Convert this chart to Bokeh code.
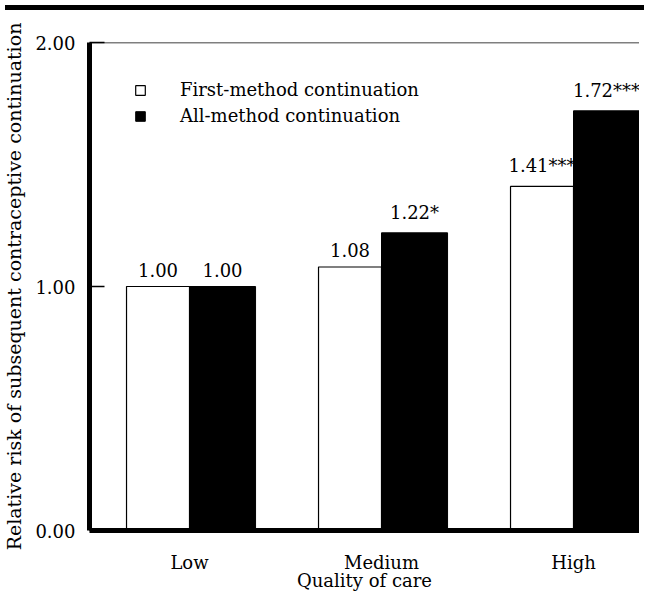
from bokeh.plotting import figure
from bokeh.models import FixedTicker, Legend, LegendItem, Span, Div
from bokeh.layouts import column
from bokeh.core.properties import value
from bokeh.embed import file_html
from bokeh.resources import INLINE

# ---- data ----
categories = ["Low", "Medium", "High"]
first_method = [1.00, 1.08, 1.41]
all_method = [1.00, 1.22, 1.72]
first_labels = ["1.00", "1.08", "1.41***"]
all_labels = ["1.00", "1.22*", "1.72***"]
y_ticks = [0, 1, 2]
y_tick_labels = ["0.00", "1.00", "2.00"]
series_names = ["First-method continuation", "All-method continuation"]

FONT = "DejaVu Serif"
FS = "18px"

xc = list(range(1, len(categories) + 1))
x_first = [c - 0.164 for c in xc]
x_all = [c + 0.172 for c in xc]

x_start = 1 - 100 / 192
p = figure(width=639, height=578, output_backend="svg", toolbar_location=None,
           x_range=(x_start, x_start + 550 / 192), y_range=(0, 2),
           min_border_left=81, min_border_right=0, min_border_top=27,
           min_border_bottom=59)
p.grid.visible = False
p.outline_line_color = None
p.background_fill_color = "white"

r_first = p.vbar(x=x_first, top=first_method, width=0.328, bottom=0,
                 fill_color="white", line_color="black", line_width=1.2)
r_all = p.vbar(x=x_all, top=all_method, width=0.344, bottom=0,
               fill_color="black", line_color="black", line_width=1)

p.text(x=x_first, y=first_method, text=first_labels, text_align="center",
       text_baseline="bottom", y_offset=-10, text_font=value(FONT),
       text_font_size=FS, text_color="black")
p.text(x=x_all, y=all_method, text=all_labels, text_align="center",
       text_baseline="bottom", y_offset=-10, text_font=value(FONT),
       text_font_size=FS, text_color="black")

# top border line
p.add_layout(Span(location=2, dimension="width", line_color="black", line_width=1.5))

# axes
p.xaxis.ticker = FixedTicker(ticks=xc)
p.xaxis.major_label_overrides = {c: lab for c, lab in zip(xc, categories)}
p.xaxis.axis_line_width = 5
p.xaxis.axis_line_color = "black"
p.xaxis.major_tick_line_color = None
p.xaxis.minor_tick_line_color = None
p.xaxis.major_label_standoff = 15
p.xaxis.axis_label = "Quality of care"
p.xaxis.axis_label_standoff = -6
p.xaxis.axis_label_text_font_style = "normal"

p.yaxis.ticker = FixedTicker(ticks=y_ticks)
p.yaxis.major_label_overrides = {t: lab for t, lab in zip(y_ticks, y_tick_labels)}
p.yaxis.axis_line_width = 5
p.yaxis.axis_line_color = "black"
p.yaxis.major_tick_in = 15
p.yaxis.major_tick_out = 0
p.yaxis.major_tick_line_width = 1.5
p.yaxis.minor_tick_line_color = None
p.yaxis.major_label_standoff = 14
p.yaxis.axis_label = "Relative risk of subsequent contraceptive continuation"
p.yaxis.axis_label_standoff = 7
p.yaxis.axis_label_text_font_style = "normal"

for ax in (p.xaxis, p.yaxis):
    ax.major_label_text_font = FONT
    ax.major_label_text_font_size = FS
    ax.major_label_text_color = "black"
    ax.axis_label_text_font = FONT
    ax.axis_label_text_font_size = FS
    ax.axis_label_text_color = "black"
p.yaxis.axis_label_text_font_size = "19px"

legend = Legend(items=[LegendItem(label=series_names[0], renderers=[r_first]),
                       LegendItem(label=series_names[1], renderers=[r_all])],
                location=(45, 404), glyph_width=12, glyph_height=12,
                label_standoff=34, spacing=5, padding=0, margin=0,
                border_line_color=None, background_fill_alpha=0,
                label_text_font=FONT, label_text_font_size=FS,
                label_text_color="black")
p.add_layout(legend)

rule = Div(width=639, height=5, styles={"background-color": "black"})
layout = column(rule, p, spacing=0)

open("out.html", "w").write(file_html(layout, INLINE))
